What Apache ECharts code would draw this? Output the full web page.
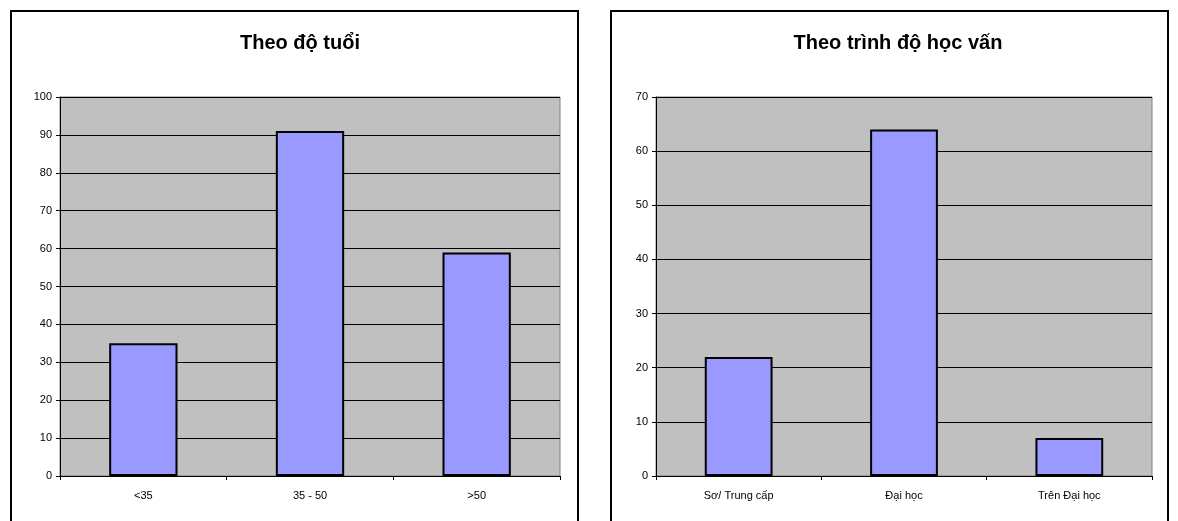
<!DOCTYPE html>
<html>
<head>
<meta charset="utf-8">
<style>
  html, body { margin: 0; padding: 0; background: #fff; }
  #main { width: 1178px; height: 521px; }
</style>
<script src="https://cdn.jsdelivr.net/npm/echarts@6/dist/echarts.min.js"></script>
</head>
<body>
<div id="main"></div>
<script>
// du lieu bieu do
var ageCats = ['<35', '35 - 50', '>50'];
var ageVals = [35, 91, 59];
var eduCats = ['Sơ/ Trung cấp', 'Đại học', 'Trên Đại học'];
var eduVals = [22, 64, 7];

var myChart = echarts.init(document.getElementById('main'));

function xAxisOf(idx, cats) {
    return {
        type: 'category', gridIndex: idx, data: cats,
        axisLine: { lineStyle: { color: '#000', width: 1 } },
        axisTick: { show: true, length: 4, lineStyle: { color: '#000' } },
        axisLabel: { color: '#000', fontFamily: 'Arial', fontSize: 11, margin: 14 }
    };
}
function yAxisOf(idx, max) {
    return {
        type: 'value', gridIndex: idx, min: 0, max: max, interval: 10,
        axisLine: { show: true, lineStyle: { color: '#000', width: 1 } },
        axisTick: { show: true, length: 4, lineStyle: { color: '#000' } },
        axisLabel: { color: '#000', fontFamily: 'Arial', fontSize: 11, margin: 8 },
        splitLine: { lineStyle: { color: '#000', width: 1 } }
    };
}
var barStyle = { color: '#9999ff', borderColor: '#000', borderWidth: 2 };

var option = {
    animation: false,
    backgroundColor: '#fff',
    title: [
        { text: 'Theo độ tuổi', left: 295, top: 28, textAlign: 'center',
          textStyle: { fontFamily: 'Arial', fontSize: 20, fontWeight: 'bold', color: '#000' } },
        { text: 'Theo trình độ học vấn', left: 893, top: 28, textAlign: 'center',
          textStyle: { fontFamily: 'Arial', fontSize: 20, fontWeight: 'bold', color: '#000' } }
    ],
    graphic: [
        { type: 'rect', shape: { x: 11, y: 11, width: 567, height: 530 },
          style: { fill: 'none', stroke: '#000', lineWidth: 2 } },
        { type: 'rect', shape: { x: 611, y: 11, width: 557, height: 530 },
          style: { fill: 'none', stroke: '#000', lineWidth: 2 } }
    ],
    grid: [
        { left: 60, top: 97, width: 500, height: 379, show: true,
          backgroundColor: '#c0c0c0', borderColor: '#808080', borderWidth: 1 },
        { left: 656, top: 97, width: 496, height: 379, show: true,
          backgroundColor: '#c0c0c0', borderColor: '#808080', borderWidth: 1 }
    ],
    xAxis: [xAxisOf(0, ageCats), xAxisOf(1, eduCats)],
    yAxis: [yAxisOf(0, 100), yAxisOf(1, 70)],
    series: [
        { type: 'bar', xAxisIndex: 0, yAxisIndex: 0, data: ageVals,
          barWidth: '41%', itemStyle: barStyle },
        { type: 'bar', xAxisIndex: 1, yAxisIndex: 1, data: eduVals,
          barWidth: '41%', itemStyle: barStyle }
    ]
};
myChart.setOption(option);
</script>
</body>
</html>
